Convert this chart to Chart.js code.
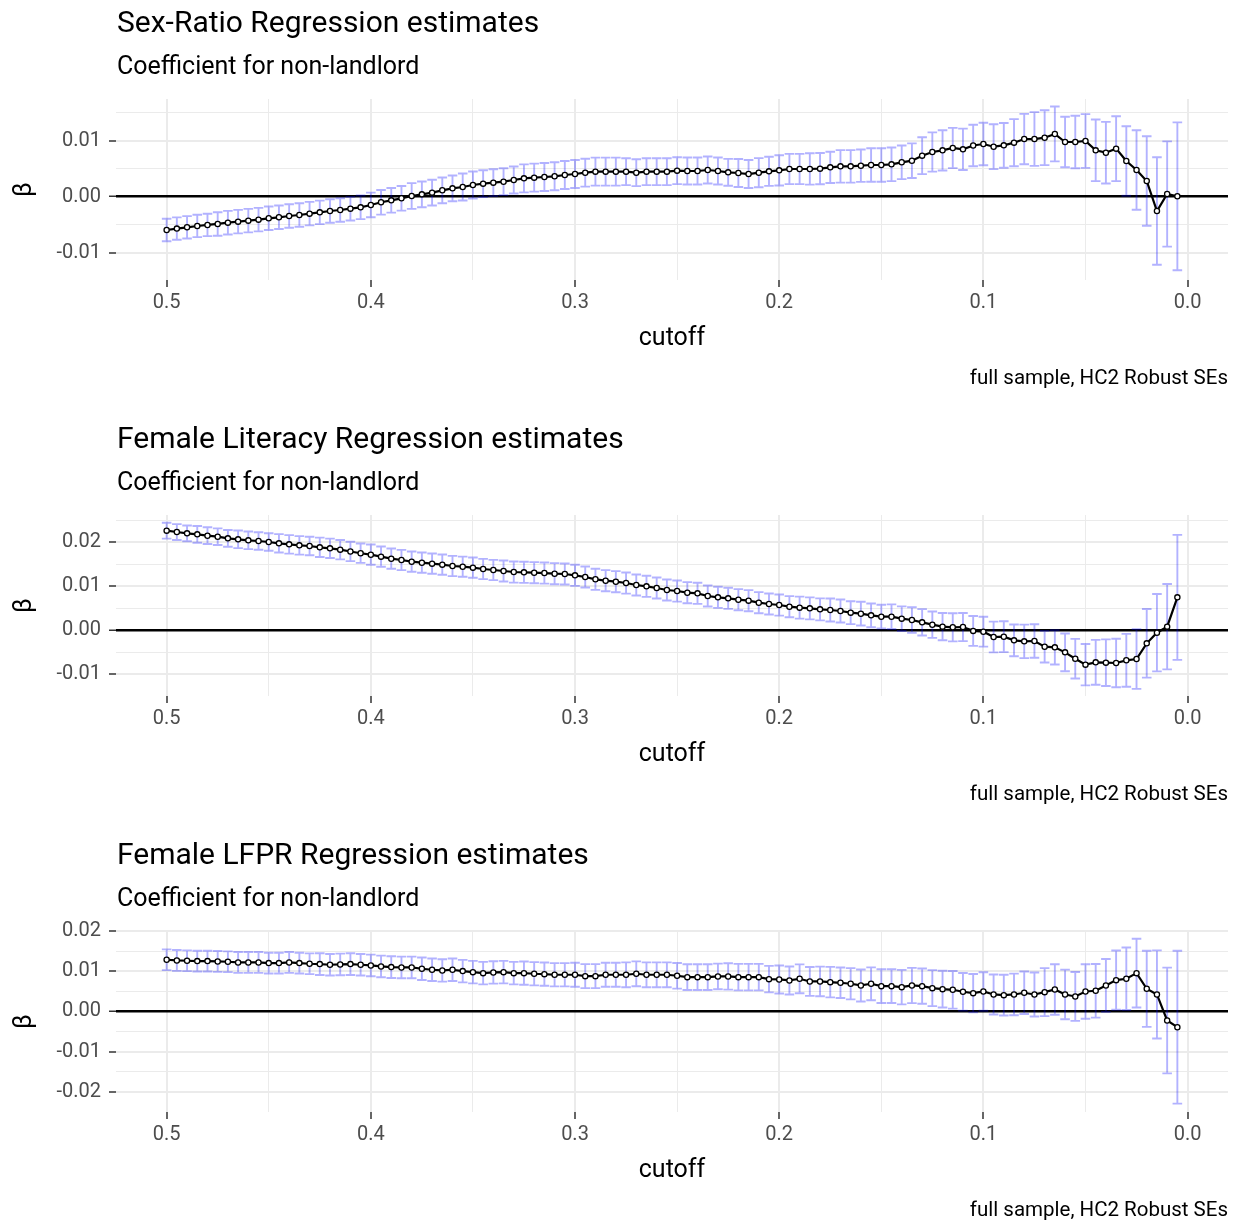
<!DOCTYPE html>
<html>
<head>
<meta charset="utf-8">
<script src="https://cdn.jsdelivr.net/npm/chart.js@4.4.0/dist/chart.umd.min.js"></script>
<style>
  html, body { margin: 0; padding: 0; background: #fff; }
  body { width: 1239px; height: 1224px; overflow: hidden; position: relative; font-family: Roboto, sans-serif; }
  .panel { position: absolute; left: 0; width: 1239px; height: 416px; }
  .panel canvas { position: absolute; left: 0; top: 0; }
  .title, .subtitle, .caption { position: absolute; line-height: 1; white-space: nowrap; color: #000; }
  .title { left: 117px; top: 7px; font-size: 30px; }
  .subtitle { left: 117px; top: 53px; font-size: 25px; }
  .caption { right: 11px; top: 367px; font-size: 20.5px; }
</style>
</head>
<body>
<script>
// ---------- data ----------
const cutoffs = [
  0.5, 0.495, 0.49, 0.485, 0.48, 0.475, 0.47, 0.465, 0.46, 0.455,
  0.45, 0.445, 0.44, 0.435, 0.43, 0.425, 0.42, 0.415, 0.41, 0.405,
  0.4, 0.395, 0.39, 0.385, 0.38, 0.375, 0.37, 0.365, 0.36, 0.355,
  0.35, 0.345, 0.34, 0.335, 0.33, 0.325, 0.32, 0.315, 0.31, 0.305,
  0.3, 0.295, 0.29, 0.285, 0.28, 0.275, 0.27, 0.265, 0.26, 0.255,
  0.25, 0.245, 0.24, 0.235, 0.23, 0.225, 0.22, 0.215, 0.21, 0.205,
  0.2, 0.195, 0.19, 0.185, 0.18, 0.175, 0.17, 0.165, 0.16, 0.155,
  0.15, 0.145, 0.14, 0.135, 0.13, 0.125, 0.12, 0.115, 0.11, 0.105,
  0.1, 0.095, 0.09, 0.085, 0.08, 0.075, 0.07, 0.065, 0.06, 0.055,
  0.05, 0.045, 0.04, 0.035, 0.03, 0.025, 0.02, 0.015, 0.01, 0.005
];

const sexRatioBeta = [
  -0.00595, -0.0057, -0.00547, -0.00523, -0.00505, -0.00487, -0.00464, -0.00446, -0.00428, -0.0041,
  -0.00386, -0.00368, -0.00345, -0.00327, -0.00303, -0.0028, -0.00256, -0.00238, -0.00214, -0.0019,
  -0.00148, -0.001, -0.00065, -0.00029, 0.00013, 0.00042, 0.00072, 0.00114, 0.00149, 0.00173,
  0.00209, 0.00233, 0.00251, 0.00268, 0.00298, 0.00328, 0.0034, 0.00352, 0.00364, 0.00388,
  0.00405, 0.00429, 0.00447, 0.00447, 0.00447, 0.00447, 0.00429, 0.00447, 0.00447, 0.00447,
  0.00465, 0.00459, 0.00459, 0.00477, 0.00459, 0.00435, 0.00423, 0.00405, 0.00429, 0.00453,
  0.00471, 0.00495, 0.00495, 0.00495, 0.00501, 0.00524, 0.00542, 0.00542, 0.00554, 0.00566,
  0.00566, 0.00578, 0.00614, 0.00643, 0.00733, 0.00798, 0.00828, 0.0087, 0.00846, 0.00914,
  0.00941, 0.00893, 0.00917, 0.00965, 0.0103, 0.0103, 0.01054, 0.0112, 0.00977, 0.00977,
  0.00995, 0.00828, 0.00786, 0.00858, 0.00638, 0.00477, 0.0028, -0.00256, 0.00048, 0.00007
];
const sexRatioCI = [
  0.002, 0.002, 0.002, 0.002, 0.002, 0.0021, 0.0021, 0.0021, 0.0021, 0.0021,
  0.0021, 0.0021, 0.0021, 0.0021, 0.0021, 0.0021, 0.0021, 0.0021, 0.0021, 0.0021,
  0.0022, 0.0022, 0.0022, 0.0022, 0.0023, 0.0023, 0.0023, 0.0023, 0.0023, 0.0024,
  0.0024, 0.0024, 0.0024, 0.0024, 0.0024, 0.0025, 0.0025, 0.0025, 0.0025, 0.0025,
  0.0025, 0.0025, 0.0025, 0.0025, 0.0025, 0.0024, 0.0024, 0.0024, 0.0024, 0.0024,
  0.0024, 0.0024, 0.0024, 0.0024, 0.0024, 0.0024, 0.0025, 0.0025, 0.0026, 0.0026,
  0.0027, 0.0027, 0.0027, 0.0028, 0.0028, 0.0028, 0.0029, 0.0029, 0.0029, 0.003,
  0.003, 0.003, 0.003, 0.0031, 0.0033, 0.0035, 0.0036, 0.0036, 0.0037, 0.0037,
  0.0038, 0.004, 0.004, 0.0042, 0.0045, 0.0048, 0.0049, 0.0049, 0.0045, 0.0047,
  0.0048, 0.0055, 0.0055, 0.0058, 0.0062, 0.0071, 0.008, 0.0096, 0.0094, 0.0132
];

const literacyBeta = [
  0.02258, 0.02227, 0.02197, 0.02174, 0.02144, 0.02121, 0.02083, 0.02061, 0.02038, 0.02023,
  0.02, 0.0197, 0.01947, 0.01924, 0.01909, 0.01879, 0.01856, 0.01826, 0.01785, 0.01745,
  0.01712, 0.01667, 0.01621, 0.01591, 0.01553, 0.0153, 0.01508, 0.01485, 0.01455, 0.01439,
  0.01417, 0.01386, 0.01364, 0.01341, 0.01318, 0.01311, 0.01303, 0.01295, 0.0128, 0.01273,
  0.01242, 0.01205, 0.01152, 0.01121, 0.01098, 0.01068, 0.01023, 0.00992, 0.00955, 0.00909,
  0.00886, 0.00848, 0.00833, 0.00773, 0.00742, 0.0072, 0.00689, 0.00667, 0.00621, 0.00591,
  0.00568, 0.0053, 0.00508, 0.00492, 0.0047, 0.00455, 0.00432, 0.00394, 0.00371, 0.00333,
  0.00303, 0.00303, 0.00258, 0.00227, 0.00174, 0.00121, 0.00076, 0.00061, 0.00068, -0.0002,
  -0.00038, -0.00159, -0.00152, -0.00235, -0.00258, -0.0025, -0.00379, -0.00394, -0.00508, -0.00652,
  -0.00788, -0.00735, -0.00742, -0.0075, -0.00689, -0.00659, -0.00303, -0.00061, 0.00076, 0.00742
];
const literacyCI = [
  0.0018, 0.0018, 0.0018, 0.0019, 0.0019, 0.0019, 0.0019, 0.002, 0.002, 0.002,
  0.002, 0.0021, 0.0021, 0.0021, 0.0021, 0.0022, 0.0022, 0.0022, 0.0022, 0.0022,
  0.0023, 0.0023, 0.0023, 0.0023, 0.0023, 0.0023, 0.0023, 0.0023, 0.0023, 0.0023,
  0.0023, 0.0023, 0.0023, 0.0024, 0.0024, 0.0024, 0.0024, 0.0024, 0.0024, 0.0024,
  0.0024, 0.0024, 0.0024, 0.0024, 0.0024, 0.0024, 0.0024, 0.0024, 0.0024, 0.0024,
  0.0024, 0.0024, 0.0024, 0.0024, 0.0024, 0.0024, 0.0024, 0.0024, 0.0024, 0.0024,
  0.0024, 0.0024, 0.0025, 0.0025, 0.0025, 0.0026, 0.0026, 0.0026, 0.0027, 0.0027,
  0.0027, 0.0028, 0.0028, 0.0029, 0.003, 0.003, 0.0031, 0.0032, 0.0032, 0.0034,
  0.0034, 0.0035, 0.0035, 0.0036, 0.0038, 0.0038, 0.0036, 0.0039, 0.0043, 0.0045,
  0.0047, 0.0051, 0.0053, 0.0055, 0.006, 0.0068, 0.0078, 0.0088, 0.0097, 0.0142
];

const lfprBeta = [
  0.01292, 0.01275, 0.01267, 0.01258, 0.01258, 0.0125, 0.01242, 0.01225, 0.01225, 0.01225,
  0.01208, 0.01208, 0.01225, 0.01208, 0.01192, 0.01183, 0.01167, 0.01175, 0.01183, 0.01167,
  0.0115, 0.01125, 0.01108, 0.011, 0.011, 0.01067, 0.01042, 0.01025, 0.01042, 0.01008,
  0.00983, 0.00958, 0.00975, 0.00983, 0.00958, 0.00958, 0.00942, 0.00933, 0.00917, 0.00917,
  0.00917, 0.00883, 0.00883, 0.00917, 0.00917, 0.00917, 0.00942, 0.00917, 0.00917, 0.00917,
  0.00892, 0.00858, 0.00858, 0.00858, 0.00875, 0.00875, 0.00858, 0.00858, 0.00858, 0.00808,
  0.008, 0.00775, 0.00817, 0.0075, 0.0075, 0.00733, 0.00717, 0.00692, 0.0065, 0.00692,
  0.00633, 0.00633, 0.00608, 0.0065, 0.00633, 0.00583, 0.00558, 0.00542, 0.00492, 0.00458,
  0.005, 0.00425, 0.00408, 0.00425, 0.00467, 0.00425, 0.00483, 0.0055, 0.00425, 0.00375,
  0.005, 0.00517, 0.0065, 0.00783, 0.00817, 0.00958, 0.00567, 0.00425, -0.00225, -0.00392
];
const lfprCI = [
  0.0026, 0.0026, 0.0026, 0.0026, 0.0026, 0.0026, 0.0026, 0.0026, 0.0026, 0.0026,
  0.0026, 0.0026, 0.0026, 0.0026, 0.0026, 0.0027, 0.0027, 0.0027, 0.0027, 0.0027,
  0.0027, 0.0027, 0.0027, 0.0027, 0.0027, 0.0028, 0.0028, 0.0028, 0.0028, 0.0028,
  0.0028, 0.0028, 0.0028, 0.0028, 0.0028, 0.0029, 0.0029, 0.0029, 0.0029, 0.0029,
  0.003, 0.003, 0.003, 0.003, 0.003, 0.0031, 0.0031, 0.0031, 0.0031, 0.0031,
  0.0032, 0.0032, 0.0032, 0.0032, 0.0032, 0.0033, 0.0033, 0.0033, 0.0033, 0.0033,
  0.0035, 0.0035, 0.0036, 0.0036, 0.0037, 0.0038, 0.0038, 0.0039, 0.004, 0.0041,
  0.0042, 0.0042, 0.0043, 0.0044, 0.0044, 0.0045, 0.0046, 0.0047, 0.0047, 0.0048,
  0.0048, 0.005, 0.0051, 0.0052, 0.0053, 0.0055, 0.006, 0.0063, 0.0062, 0.0061,
  0.0068, 0.0067, 0.0066, 0.0074, 0.0078, 0.0086, 0.0095, 0.011, 0.0132, 0.0191
];

const cutoffTicks = [0.5, 0.4, 0.3, 0.2, 0.1, 0.0];
const cutoffMinor = [0.45, 0.35, 0.25, 0.15, 0.05];

const sexRatioTicks = [-0.01, 0, 0.01];
const sexRatioMinor = [-0.005, 0.005, 0.015];
const literacyTicks = [-0.01, 0, 0.01, 0.02];
const literacyMinor = [-0.005, 0.005, 0.015, 0.025];
const lfprTicks = [-0.02, -0.01, 0, 0.01, 0.02];
const lfprMinor = [-0.015, -0.005, 0.005, 0.015];

const titles = ['Sex-Ratio Regression estimates', 'Female Literacy Regression estimates', 'Female LFPR Regression estimates'];
const subtitle = 'Coefficient for non-landlord';
const caption = 'full sample, HC2 Robust SEs';

// ---------- drawing ----------
const FONT = 'Roboto';
const capHalf = 0.00235; // half-width of the error bar caps, in cutoff units

const errorBars = {
  id: 'errorBars',
  beforeDatasetsDraw(chart) {
    const { ctx, chartArea, scales: { x, y } } = chart;
    ctx.save();
    ctx.beginPath();
    ctx.rect(chartArea.left, chartArea.top, chartArea.width, chartArea.height);
    ctx.clip();
    ctx.strokeStyle = 'rgba(0,0,255,0.3)';
    ctx.lineWidth = 1.9;
    chart.data.datasets[0].data.forEach(d => {
      const px = x.getPixelForValue(d.x);
      const hw = Math.abs(x.getPixelForValue(d.x + capHalf) - px);
      const top = y.getPixelForValue(d.y + d.ci);
      const bot = y.getPixelForValue(d.y - d.ci);
      ctx.beginPath();
      ctx.moveTo(px - hw, top); ctx.lineTo(px + hw, top);
      ctx.moveTo(px, top); ctx.lineTo(px, bot);
      ctx.moveTo(px - hw, bot); ctx.lineTo(px + hw, bot);
      ctx.stroke();
    });
    ctx.restore();
  }
};

function tickList(major, minor) {
  return major.map(v => ({ value: v })).concat(minor.map(v => ({ value: v, minor: true })))
    .sort((a, b) => a.value - b.value);
}

function makePanel(top, title, beta, ci, yMin, yMax, yMajor, yMinor) {
  const panel = document.createElement('div');
  panel.className = 'panel';
  panel.style.top = top + 'px';
  panel.innerHTML =
    '<canvas width="1239" height="416"></canvas>' +
    '<div class="title"></div><div class="subtitle"></div><div class="caption"></div>';
  panel.querySelector('.title').textContent = title;
  panel.querySelector('.subtitle').textContent = subtitle;
  panel.querySelector('.caption').textContent = caption;
  document.body.appendChild(panel);

  const gridColor = c => (c.tick && c.tick.value === 0 && c.scale.axis === 'y') ? '#000' : '#EBEBEB';
  const gridWidth = c => {
    if (!c.tick) return 1;
    if (c.tick.value === 0 && c.scale.axis === 'y') return 2.5;
    return c.tick.minor ? 1 : 2;
  };
  const tickColor = c => (c.tick && c.tick.minor) ? 'rgba(0,0,0,0)' : '#333';

  new Chart(panel.querySelector('canvas'), {
    type: 'line',
    data: {
      datasets: [{
        data: cutoffs.map((c, i) => ({ x: c, y: beta[i], ci: ci[i] })),
        borderColor: '#000',
        borderWidth: 2.2,
        pointRadius: 2.6,
        pointBorderWidth: 1.3,
        pointBackgroundColor: '#fff',
        pointBorderColor: '#000',
        tension: 0
      }]
    },
    options: {
      responsive: false,
      animation: false,
      devicePixelRatio: 1,
      events: [],
      layout: { padding: { left: 0, right: 11, top: 99, bottom: 62 } },
      plugins: { legend: { display: false }, tooltip: { enabled: false } },
      scales: {
        x: {
          type: 'linear',
          reverse: true,
          min: -0.0198,
          max: 0.5248,
          afterBuildTicks: s => { s.ticks = tickList(cutoffTicks, cutoffMinor); },
          afterFit: s => { s.height = 74; },
          border: { display: false },
          grid: { color: gridColor, lineWidth: gridWidth, tickColor: tickColor, tickLength: 7, tickWidth: 1.5 },
          ticks: {
            autoSkip: false, maxRotation: 0, padding: 4,
            color: '#4D4D4D', font: { family: FONT, size: 20 },
            callback: (v, i, t) => t[i].minor ? '' : v.toFixed(1)
          },
          title: { display: true, text: 'cutoff', color: '#000', padding: 0, font: { family: FONT, size: 25 } }
        },
        y: {
          type: 'linear',
          min: yMin,
          max: yMax,
          afterBuildTicks: s => { s.ticks = tickList(yMajor, yMinor); },
          afterFit: s => { s.width = 116; },
          border: { display: false },
          grid: { color: gridColor, lineWidth: gridWidth, tickColor: tickColor, tickLength: 7, tickWidth: 1.5 },
          ticks: {
            autoSkip: false, padding: 8,
            color: '#4D4D4D', font: { family: FONT, size: 20 },
            callback: (v, i, t) => t[i].minor ? '' : v.toFixed(2)
          },
          title: { display: true, text: 'β', color: '#000', padding: { top: 10, bottom: 0 }, font: { family: FONT, size: 25 } }
        }
      }
    },
    plugins: [errorBars]
  });
}

makePanel(0, titles[0], sexRatioBeta, sexRatioCI, -0.01488, 0.01745, sexRatioTicks, sexRatioMinor);
makePanel(416, titles[1], literacyBeta, literacyCI, -0.015, 0.02614, literacyTicks, literacyMinor);
makePanel(832, titles[2], lfprBeta, lfprCI, -0.0251, 0.0201, lfprTicks, lfprMinor);
</script>
</body>
</html>
